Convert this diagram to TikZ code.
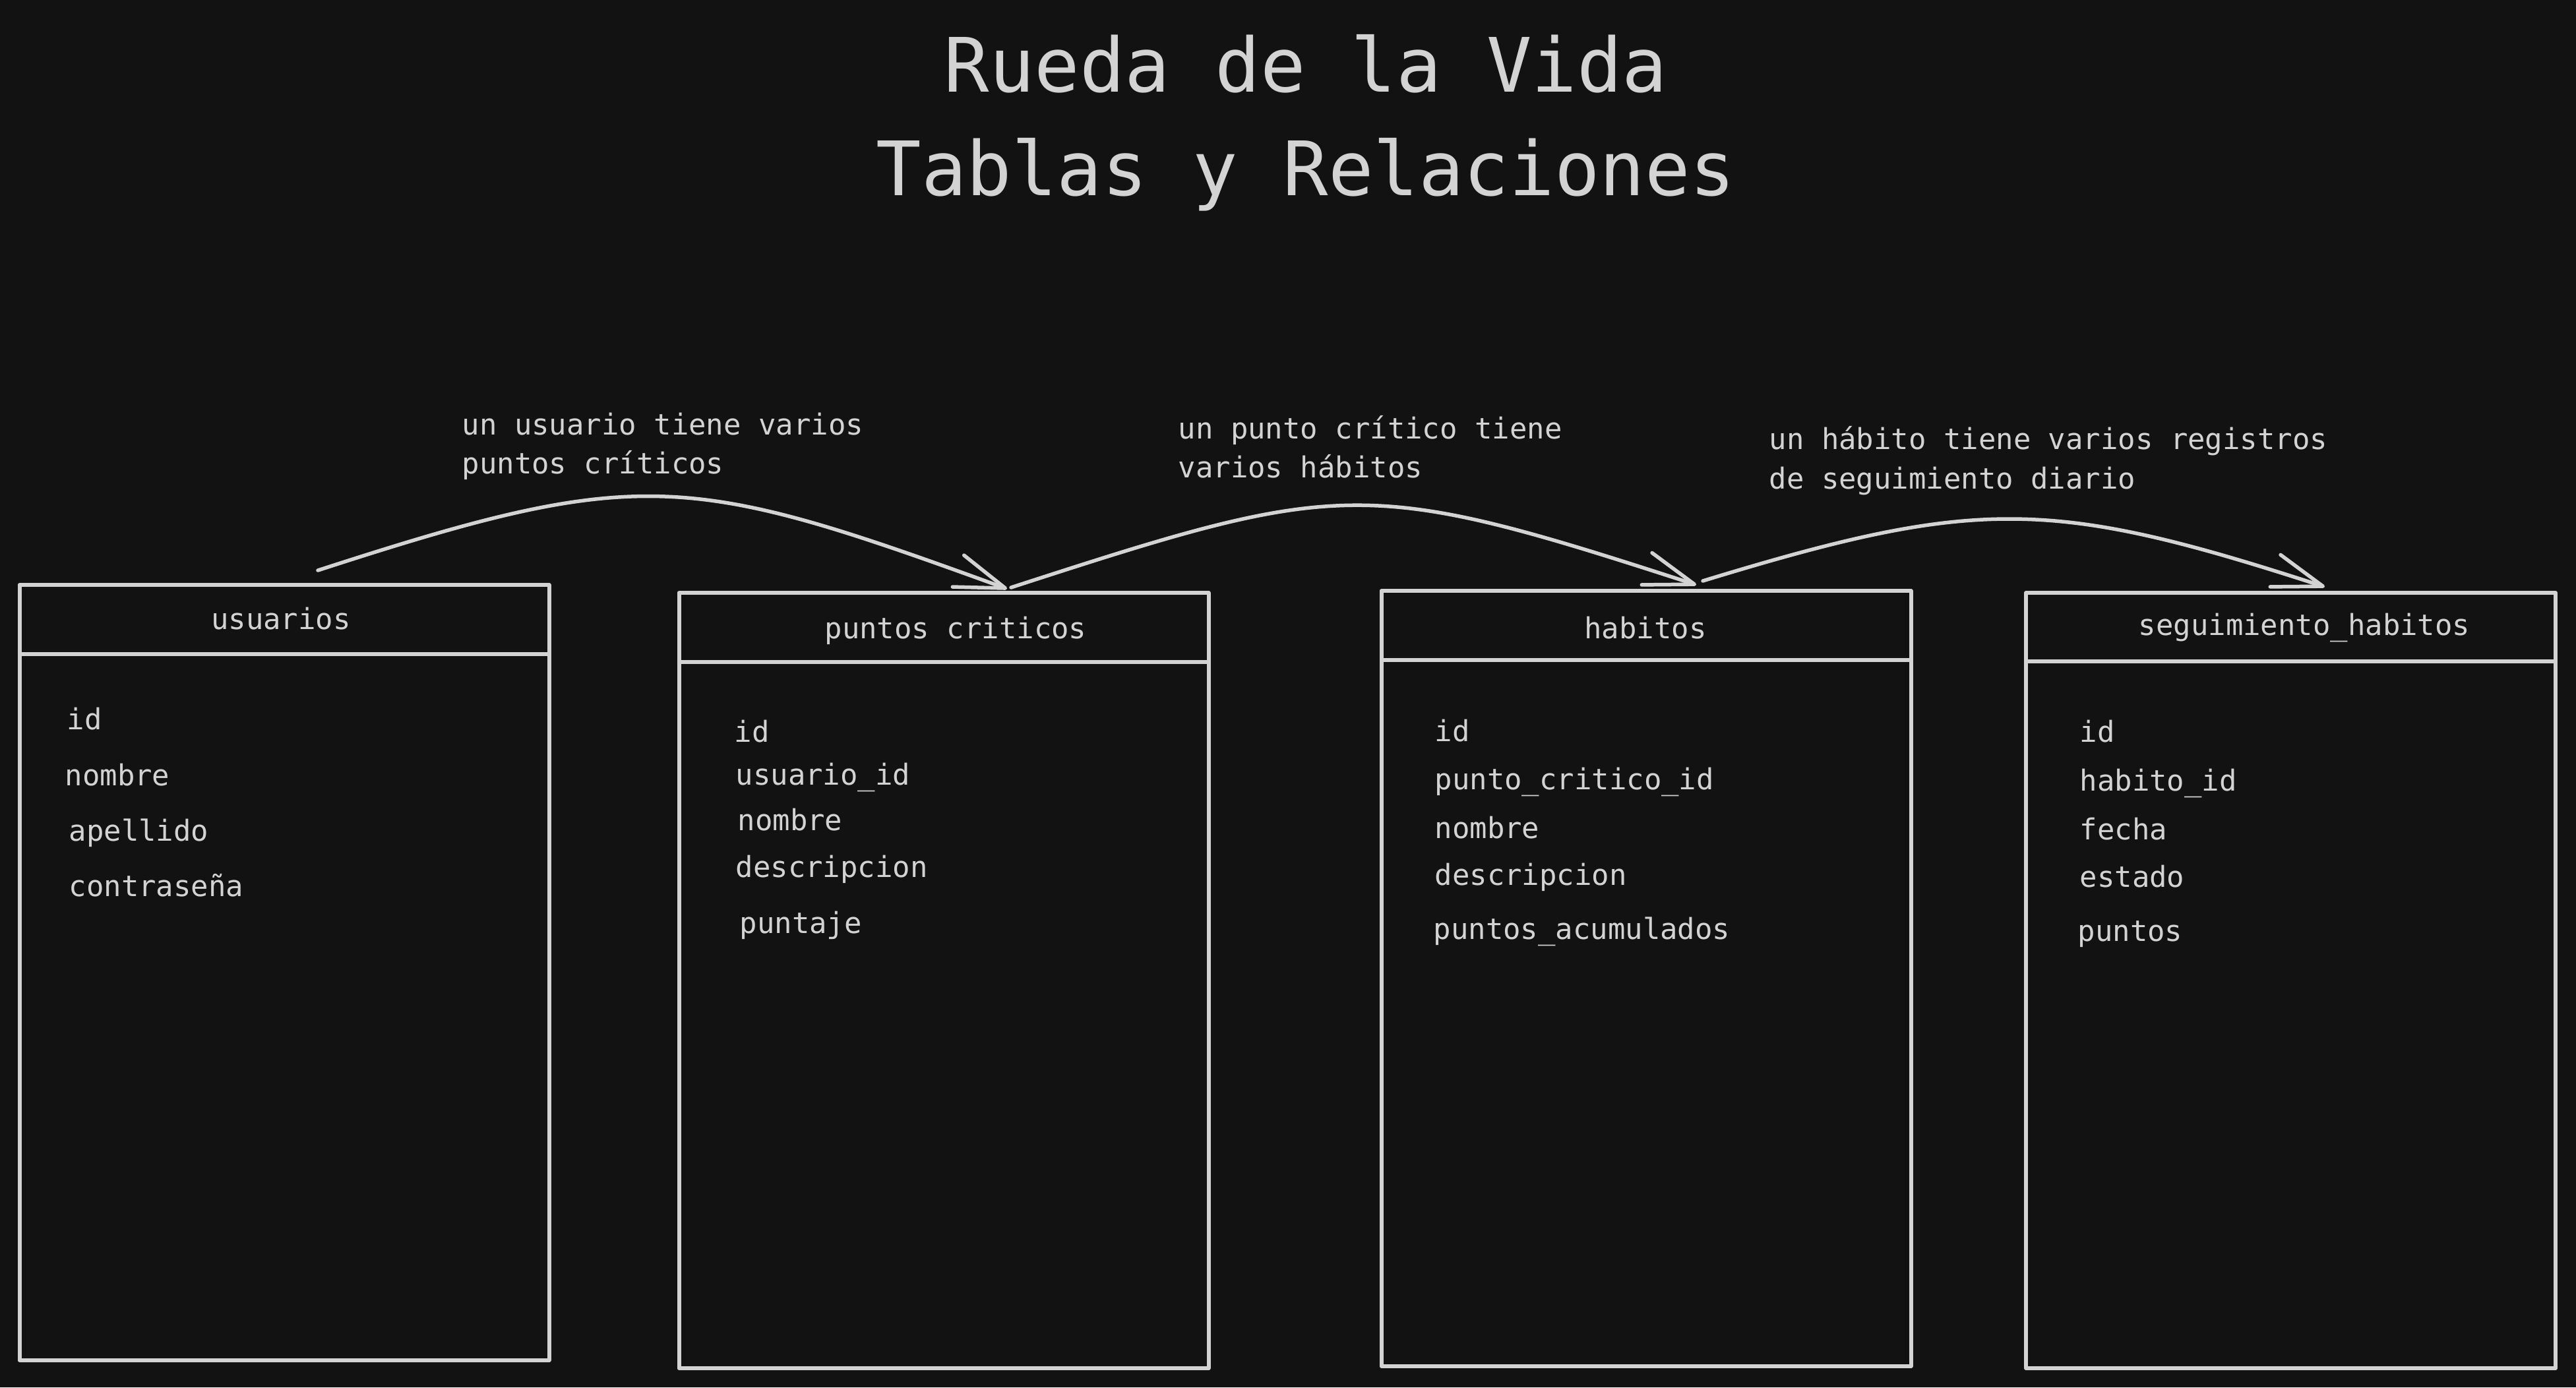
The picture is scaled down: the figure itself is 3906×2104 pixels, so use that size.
\documentclass[tikz,border=0pt]{standalone}
\usepackage{fontspec}
\setmonofont{DejaVu Sans Mono}
\usetikzlibrary{arrows.meta}
\definecolor{fondo}{HTML}{121212}
\definecolor{trazo}{HTML}{D3D3D3}
\tikzstyle{tabla}=[draw=trazo,line width=0.6mm,minimum width=80.3mm,minimum height=117.6mm,inner sep=0pt]
\tikzstyle{campo}=[text=trazo,anchor=base west,inner sep=0pt,font=\ttfamily\fontsize{12.5}{17}\selectfont]
\tikzstyle{cabecera}=[campo,anchor=base]
\tikzstyle{nota}=[campo,align=left]
\tikzstyle{relacion}=[draw=trazo,line width=0.55mm,line cap=round,-{Straight Barb[round,length=7.6mm,width=5.1mm]}]

\begin{document}
\begin{tikzpicture}[x=0.1mm,y=0.1mm,line join=round]
    \fill[fondo] (0,0) rectangle (3906,2104);
    \node [text=trazo,anchor=base,align=center,inner sep=0pt,font=\ttfamily\fontsize{32.4}{44.7}\selectfont] (titulo) at (1980,1807) {Rueda de la Vida\\Tablas y Relaciones};
    % tablas
    \node [tabla] (usuarios) at (431,629) {};
    \node [tabla] (puntos) at (1431,617) {};
    \node [tabla] (habitos) at (2496,620) {};
    \node [tabla] (seguimiento) at (3473.5,617) {};
    \draw [trazo,line width=0.6mm] ([yshift=-10.8mm]usuarios.north west) -- ([yshift=-10.8mm]usuarios.north east);
    \draw [trazo,line width=0.6mm] ([yshift=-10.8mm]puntos.north west) -- ([yshift=-10.8mm]puntos.north east);
    \draw [trazo,line width=0.6mm] ([yshift=-10.8mm]habitos.north west) -- ([yshift=-10.8mm]habitos.north east);
    \draw [trazo,line width=0.6mm] ([yshift=-10.7mm]seguimiento.north west) -- ([yshift=-10.7mm]seguimiento.north east);
    \node [cabecera] (usuarios-t) at (426,1150) {usuarios};
    \node [cabecera] (puntos-t) at (1449,1136) {puntos criticos};
    \node [cabecera] (habitos-t) at (2495,1136) {habitos};
    \node [cabecera] (seguimiento-t) at (3494,1141) {seguimiento\_habitos};
    % campos
    \node [campo] (u-id) at (101,998) {id};
    \node [campo] (u-nombre) at (98,913) {nombre};
    \node [campo] (u-apellido) at (104,829) {apellido};
    \node [campo] (u-contrasena) at (104,745) {contraseña};
    \node [campo] (p-id) at (1113,979) {id};
    \node [campo] (p-usuario) at (1115,914) {usuario\_id};
    \node [campo] (p-nombre) at (1118,845) {nombre};
    \node [campo] (p-descripcion) at (1115,774) {descripcion};
    \node [campo] (p-puntaje) at (1121,689) {puntaje};
    \node [campo] (h-id) at (2175,980) {id};
    \node [campo] (h-punto) at (2175,907) {punto\_critico\_id};
    \node [campo] (h-nombre) at (2175,833) {nombre};
    \node [campo] (h-descripcion) at (2175,762) {descripcion};
    \node [campo] (h-puntos) at (2173,680) {puntos\_acumulados};
    \node [campo] (s-id) at (3153,979) {id};
    \node [campo] (s-habito) at (3153,905) {habito\_id};
    \node [campo] (s-fecha) at (3153,831) {fecha};
    \node [campo] (s-estado) at (3153,759) {estado};
    \node [campo] (s-puntos) at (3150,677) {puntos};
    % relaciones
    \node [nota] (nota-usuarios) at (700,1385) {un usuario tiene varios\\puntos críticos};
    \node [nota] (nota-puntos) at (1786,1379) {un punto crítico tiene\\varios hábitos};
    \node [nota] (nota-habitos) at (2682,1363) {un hábito tiene varios registros\\de seguimiento diario};
    \draw [relacion] ([xshift=5.1mm,yshift=1.9mm]usuarios.north) to[out=18,in=160,looseness=1.26] ([xshift=9.6mm,yshift=0.3mm]puntos.north);
    \draw [relacion] ([xshift=10.2mm,yshift=0.5mm]puntos.north) to[out=18,in=162,looseness=1.3] ([xshift=7.6mm,yshift=0.6mm]habitos.north);
    \draw [relacion] ([xshift=8.6mm,yshift=1.2mm]habitos.north) to[out=17,in=162,looseness=1.18] ([xshift=5.15mm,yshift=0.6mm]seguimiento.north);
\end{tikzpicture}
\end{document}
